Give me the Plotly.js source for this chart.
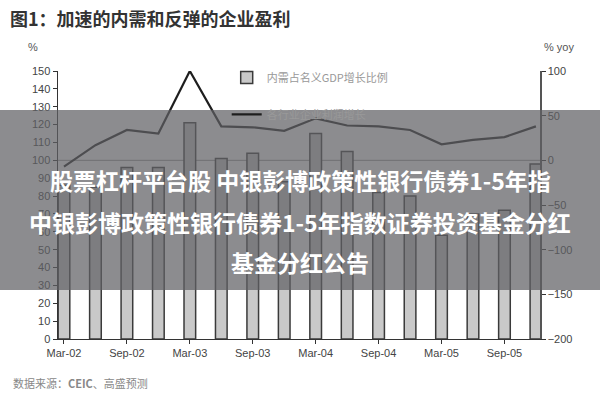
<!DOCTYPE html>
<html>
<head>
<meta charset="utf-8">
<script src="https://cdn.plot.ly/plotly-3.0.1.min.js"></script>
<style>html,body{margin:0;padding:0;background:#fff}#chart{width:600px;height:400px}</style>
</head>
<body>
<div id="chart"></div>
<script>
const quarters = ["Mar-02","Jun-02","Sep-02","Dec-02","Mar-03","Jun-03","Sep-03","Dec-03",
                  "Mar-04","Jun-04","Sep-04","Dec-04","Mar-05","Jun-05","Sep-05","Dec-05"];
const tickLabels = ["Mar-02","Sep-02","Mar-03","Sep-03","Mar-04","Sep-04","Mar-05","Sep-05"];
const domesticShare = [86, 85, 96, 96, 121, 101, 104, 88, 115, 105, 82, 80, 58, 70, 72, 98];
const profitGrowth = [-7, 17, 34, 30, 100, 38, 37, 33, 47, 39, 38, 34, 18, 23, 26, 38];
const barName = "内需占名义GDP增长比例";
const lineName = "各行业企业利润增长";
const overlayLines = ["股票杠杆平台股 中银彭博政策性银行债券1-5年指",
                      "中银彭博政策性银行债券1-5年指数证券投资基金分红",
                      "基金分红公告"];

const fontFam = "Liberation Sans, Arial, Noto Sans CJK SC, sans-serif";
const cjk = "Noto Sans CJK SC, sans-serif";

const traces = [
  {type:"bar", x:quarters, y:domesticShare, name:barName, yaxis:"y", legendgroup:"a",
   width:0.37, marker:{color:"#c9c9c9", line:{color:"#3a3a3a", width:1.5}}},
  {type:"scatter", mode:"lines", x:quarters, y:profitGrowth, name:lineName, yaxis:"y2", legendgroup:"b",
   line:{color:"#1e1e1e", width:2.2}}
];

const annotations = [
  {xref:"paper", yref:"paper", x:-0.104, y:1.255, xanchor:"left", yanchor:"top", showarrow:false,
   text:"<b>图1：加速的内需和反弹的企业盈利</b>", font:{family:cjk, size:18, color:"#333"}},
  {xref:"paper", yref:"paper", x:-0.052, y:(339-47)/268, xanchor:"center", yanchor:"middle", showarrow:false,
   text:"%", font:{family:fontFam, size:11, color:"#555"}},
  {xref:"paper", yref:"paper", x:1.04, y:(339-47)/268, xanchor:"center", yanchor:"middle", showarrow:false,
   text:"% yoy", font:{family:fontFam, size:11, color:"#555"}},
  {xref:"paper", yref:"paper", x:-0.098, y:-0.125, xanchor:"left", yanchor:"top", showarrow:false,
   text:"数据来源：<b>CEIC</b>、高盛预测", font:{family:cjk, size:11, color:"#888"}}
];
const overlayY = [180, 222, 262];
overlayLines.forEach((t,i)=>{
  annotations.push({xref:"paper", yref:"paper", x:(300-58)/482, y:(339-overlayY[i])/268,
    xanchor:"center", yanchor:"middle", showarrow:false,
    text:"<b>"+t+"</b>", font:{family:cjk, size:23, color:"#ffffff"}});
});

const layout = {
  width:600, height:400,
  margin:{l:58, r:60, t:71, b:61},
  paper_bgcolor:"#fff", plot_bgcolor:"#fff",
  showlegend:true,
  legend:{x:0.35, y:1.03, xanchor:"left", yanchor:"top", bgcolor:"rgba(0,0,0,0)",
          font:{family:cjk, size:11, color:"#999"}, tracegroupgap:18, itemwidth:30},
  xaxis:{type:"category", range:[-0.19, 15.13], tickmode:"array", tickvals:tickLabels, ticktext:tickLabels,
         ticks:"outside", ticklen:4, tickcolor:"#333", showline:true, linecolor:"#333", linewidth:1,
         showgrid:false, zeroline:false, tickfont:{family:fontFam, size:11, color:"#444"}},
  yaxis:{range:[0,150], dtick:10, ticks:"outside", ticklen:4, tickcolor:"#333", showline:true,
         linecolor:"#333", linewidth:1.5, showgrid:false, zeroline:false,
         tickfont:{family:fontFam, size:11, color:"#444"}},
  yaxis2:{range:[-200,100], dtick:50, overlaying:"y", side:"right", ticks:"outside", ticklen:4,
          tickcolor:"#333", showline:true, linecolor:"#555", linewidth:1.5, showgrid:false,
          zeroline:false, tickfont:{family:fontFam, size:11, color:"#444"}},
  shapes:[
    {type:"line", xref:"paper", yref:"y2", x0:0, x1:1, y0:0, y1:0, line:{color:"#999", width:1}, layer:"below"},
    {type:"rect", xref:"paper", yref:"paper", x0:-58/482, x1:(600-58)/482,
     y0:(339-290)/268, y1:(339-110)/268, fillcolor:"rgba(95,95,100,0.72)", line:{width:0}, layer:"above"}
  ],
  annotations:annotations
};
Plotly.newPlot("chart", traces, layout, {displayModeBar:false, staticPlot:true});
</script>
</body>
</html>
